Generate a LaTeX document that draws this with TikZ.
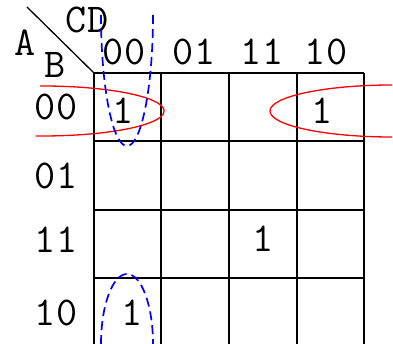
\documentclass[tikz,border=0pt]{standalone}
\usepackage{fontspec}
\setmonofont{Latin Modern Mono}[LetterSpace=2]
\begin{document}
\begin{tikzpicture}[x=1pt,y=1pt,
    lbl/.style={font=\ttfamily\fontsize{41}{41}\selectfont, inner sep=0pt, anchor=base},
    cell/.style={line width=1.6pt},
    grp/.style={red, line width=1.3pt},
    wrap/.style={blue, line width=1.7pt, dash pattern=on 9pt off 5pt}]
\useasboundingbox (0,0) rectangle (393,-344);
% map grid
\foreach \x in {94,161,229,297,364}
  \draw[cell] (\x,-73) -- (\x,-344);
\foreach \y in {73,141,210,278}
  \draw[cell] (94,-\y) -- (364,-\y);
\coordinate (corner) at (94,-73);
\coordinate (diag) at (27,-7);
\draw[line width=1.3pt] (diag) -- (corner);
% variable names
\node[lbl] (cd) at (87,-33) {CD};
\node[lbl] (a) at (25,-56) {A};
\node[lbl] (b) at (55,-78) {B};
% column heads
\node[lbl] (c00) at (124,-65) {00};
\node[lbl] (c01) at (194,-65) {01};
\node[lbl] (c11) at (262,-65) {11};
\node[lbl] (c10) at (326,-65) {10};
% row heads
\node[lbl] (r00) at (56,-120) {00};
\node[lbl] (r01) at (56,-189) {01};
\node[lbl] (r11) at (56,-253) {11};
\node[lbl] (r10) at (56,-325) {10};
% minterms
\node[lbl] (m0) at (123,-124) {1};
\node[lbl] (m2) at (322,-124) {1};
\node[lbl] (m15) at (263,-252) {1};
\node[lbl] (m8) at (132,-325) {1};
% groups
\draw[grp] (40,-86) arc[start angle=91, end angle=-93, x radius=122, y radius=25];
\draw[grp] (392,-85) arc[start angle=90, end angle=270, x radius=122, y radius=26];
\draw[wrap] (101,-15) arc[start angle=180, end angle=360, x radius=26, y radius=131];
\draw[wrap] (101,-344) arc[start angle=180, end angle=0, x radius=26, y radius=70];
\end{tikzpicture}
\end{document}
